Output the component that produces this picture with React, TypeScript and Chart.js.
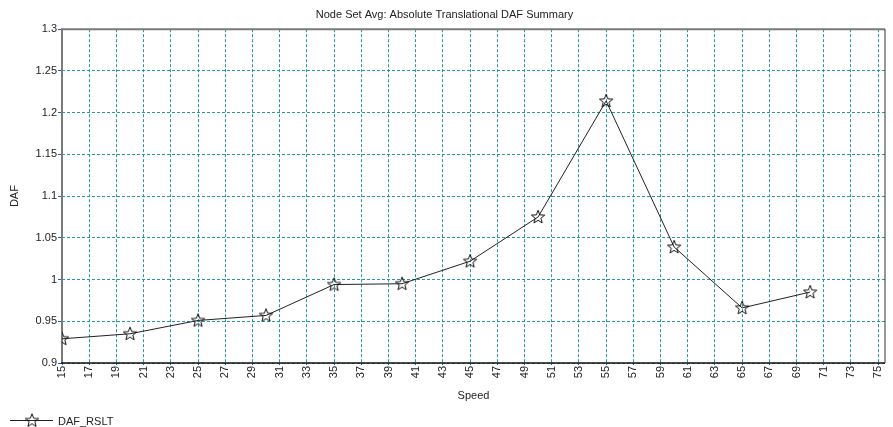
import React, { useEffect, useRef } from 'react';
import { Chart, registerables } from 'chart.js';

Chart.register(...registerables);

const titleText = 'Node Set Avg: Absolute Translational DAF Summary';
const xTitle = 'Speed';
const yTitle = 'DAF';
const seriesName = 'DAF_RSLT';

const speeds = [15, 20, 25, 30, 35, 40, 45, 50, 55, 60, 65, 70];
const dafValues = [0.929, 0.935, 0.951, 0.957, 0.994, 0.995, 1.022, 1.075, 1.214, 1.039, 0.966, 0.985];

const xTickValues = [15, 17, 19, 21, 23, 25, 27, 29, 31, 33, 35, 37, 39, 41, 43, 45, 47, 49, 51, 53, 55, 57, 59, 61, 63, 65, 67, 69, 71, 73, 75];
const yTickValues = [0.9, 0.95, 1, 1.05, 1.1, 1.15, 1.2, 1.25, 1.3];

const FONT = "'Liberation Sans', Arial, sans-serif";
const GRID = '#229c9c';

function makeStar(): HTMLCanvasElement {
  const c = document.createElement('canvas');
  c.width = 16;
  c.height = 16;
  const ctx = c.getContext('2d')!;
  const cx = 8, cy = 8.3, R = 7, r = 3;
  ctx.beginPath();
  for (let i = 0; i < 10; i++) {
    const ang = -Math.PI / 2 + (i * Math.PI) / 5;
    const rad = i % 2 === 0 ? R : r;
    const px = cx + rad * Math.cos(ang);
    const py = cy + rad * Math.sin(ang);
    if (i === 0) ctx.moveTo(px, py);
    else ctx.lineTo(px, py);
  }
  ctx.closePath();
  ctx.strokeStyle = '#111';
  ctx.lineWidth = 1;
  ctx.stroke();
  return c;
}

export default function App() {
  const ref = useRef<HTMLCanvasElement>(null);

  useEffect(() => {
    const star = makeStar();

    const framePlugin = {
      id: 'frame',
      beforeDatasetsDraw(chart: any) {
        const { ctx, chartArea: a } = chart;
        ctx.save();
        ctx.lineWidth = 2;
        ctx.strokeStyle = '#7a7a7a';
        ctx.beginPath();
        ctx.moveTo(a.left, a.bottom);
        ctx.lineTo(a.left, a.top);
        ctx.lineTo(a.right, a.top);
        ctx.stroke();
        ctx.lineWidth = 1.5;
        ctx.strokeStyle = '#111';
        ctx.beginPath();
        ctx.moveTo(a.left - 1, a.bottom);
        ctx.lineTo(a.right, a.bottom);
        ctx.stroke();
        ctx.lineWidth = 1;
        ctx.strokeStyle = '#333';
        ctx.beginPath();
        ctx.moveTo(a.right, a.top);
        ctx.lineTo(a.right, a.bottom);
        ctx.stroke();
        ctx.restore();
      },
      afterDraw(chart: any) {
        const { ctx } = chart;
        const y = 420.5;
        ctx.save();
        ctx.strokeStyle = '#222';
        ctx.lineWidth = 1;
        ctx.beginPath();
        ctx.moveTo(10, y);
        ctx.lineTo(53, y);
        ctx.stroke();
        ctx.drawImage(star, 32 - 8, y - 8);
        ctx.fillStyle = '#222';
        ctx.font = `11px ${FONT}`;
        ctx.textBaseline = 'middle';
        ctx.textAlign = 'left';
        ctx.fillText(chart.data.datasets[0].label, 58, y + 1);
        ctx.restore();
      },
    };

    const chart = new Chart(ref.current!, {
      type: 'line',
      data: {
        datasets: [
          {
            label: seriesName,
            data: speeds.map((s, i) => ({ x: s, y: dafValues[i] })),
            borderColor: '#222',
            borderWidth: 1,
            pointStyle: star as any,
            pointRadius: 7,
            pointHoverRadius: 7,
            tension: 0,
            fill: false,
          },
        ],
      },
      plugins: [framePlugin],
      options: {
        responsive: false,
        animation: false,
        layout: { padding: { left: 0, right: 4, top: 0, bottom: 20 } },
        plugins: {
          legend: { display: false },
          tooltip: { enabled: false },
          title: {
            display: true,
            text: titleText,
            color: '#222',
            font: { family: FONT, size: 11, weight: 'normal' },
            padding: { top: 8, bottom: 8 },
          },
        },
        scales: {
          x: {
            type: 'linear',
            min: 15,
            max: 75.5,
            afterBuildTicks: (scale: any) => {
              scale.ticks = xTickValues.map((v) => ({ value: v }));
            },
            afterFit: (scale: any) => {
              scale.height = 44;
              scale.paddingLeft = 0;
              scale.paddingRight = 0;
            },
            grid: { color: GRID, lineWidth: 1, tickLength: 2, tickColor: '#3355cc' },
            border: { display: false, dash: [3, 2] },
            ticks: {
              autoSkip: false,
              minRotation: 90,
              maxRotation: 90,
              padding: 1,
              color: '#222',
              font: { family: FONT, size: 11 },
              callback: (v: any) => String(v),
            },
            title: {
              display: true,
              text: xTitle,
              color: '#222',
              font: { family: FONT, size: 11 },
              padding: { top: 0, bottom: 4 },
            },
          },
          y: {
            type: 'linear',
            min: 0.9,
            max: 1.3,
            afterBuildTicks: (scale: any) => {
              scale.ticks = yTickValues.map((v) => ({ value: v }));
            },
            afterFit: (scale: any) => {
              scale.width = 62;
              scale.paddingTop = 0;
              scale.paddingBottom = 0;
            },
            grid: { color: GRID, lineWidth: 1, tickLength: 4, tickColor: '#3355cc' },
            border: { display: false, dash: [3, 2] },
            ticks: {
              padding: 1,
              color: '#222',
              font: { family: FONT, size: 11 },
              callback: (v: any) => String(+Number(v).toFixed(2)),
            },
            title: {
              display: true,
              text: yTitle,
              color: '#222',
              font: { family: FONT, size: 11 },
              padding: { top: 8, bottom: 0 },
            },
          },
        },
      },
    } as any);

    return () => chart.destroy();
  }, []);

  return (
    <div style={{ position: 'fixed', left: 0, top: 0, width: 893, height: 427, background: '#fff' }}>
      <canvas ref={ref} width={893} height={427} style={{ display: 'block' }} />
    </div>
  );
}
